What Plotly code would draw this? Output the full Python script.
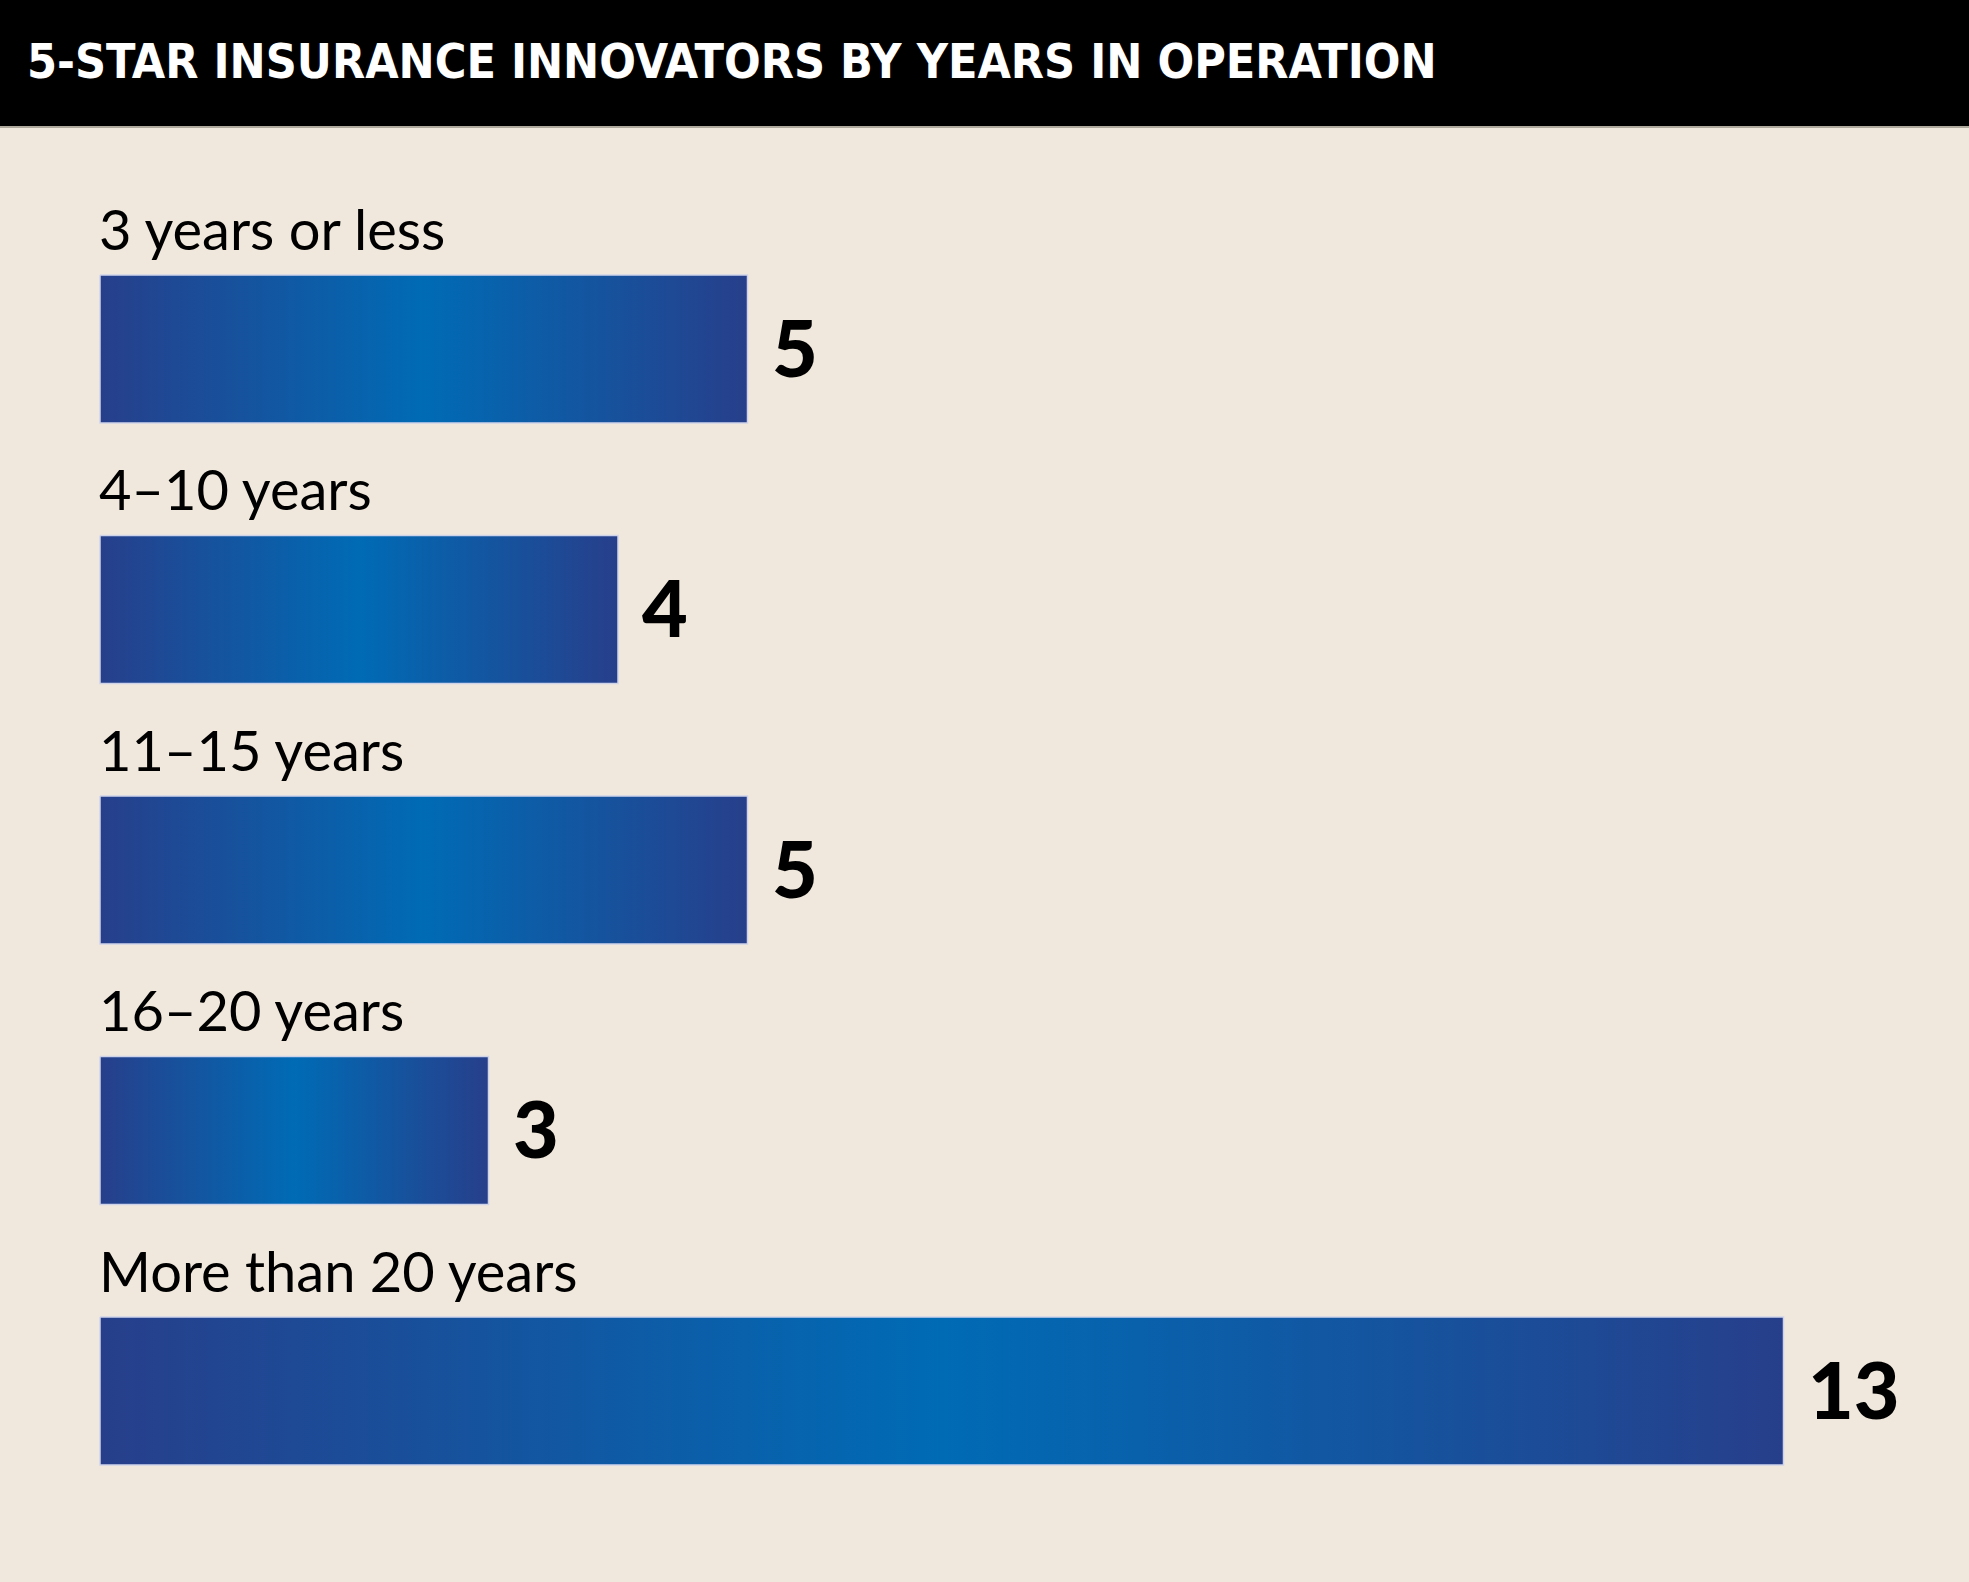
import plotly.graph_objects as go

categories = ["3 years or less", "4\u201310 years", "11\u201315 years", "16\u201320 years", "More than 20 years"]
values = [5, 4, 5, 3, 13]
title_text = "5-STAR INSURANCE INNOVATORS BY YEARS IN OPERATION"

W, H = 1969, 1582
BG = "#f0e8dc"
EDGE = "#273f8b"
MID = "#006bb5"

# pixel mapping helpers (layout only)
x0_px, unit_px = 100, 129.5
y0_px, pitch_px = 349, 260.5
half_h = 74 / pitch_px
label_off = (349 - 228) / pitch_px

fig = go.Figure()
for i, (cat, v) in enumerate(zip(categories, values)):
    fig.add_trace(go.Scatter(
        x=[0, v, v, 0, 0],
        y=[i - half_h, i - half_h, i + half_h, i + half_h, i - half_h],
        mode="lines",
        fill="toself",
        fillgradient=dict(type="horizontal",
                          colorscale=[[0, EDGE], [0.5, MID], [1, EDGE]]),
        line=dict(color="#cfd3ea", width=1.5),
        hoverinfo="skip",
        showlegend=False,
    ))
    fig.add_annotation(x=0, y=i - label_off, xref="x", yref="y",
                       text=cat, showarrow=False, xanchor="left", yanchor="middle",
                       xshift=-3,
                       font=dict(family="Lato", size=56, color="#000000", weight=400))
    fig.add_annotation(x=v, y=i, xref="x", yref="y",
                       text=str(v), showarrow=False, xanchor="left", yanchor="middle",
                       xshift=22, yshift=3,
                       font=dict(family="Lato", size=79, color="#000000", weight=900))

# title bar
fig.add_shape(type="rect", xref="paper", yref="paper", x0=0, x1=1,
              y0=1 - 126 / H, y1=1, fillcolor="#000000", line=dict(width=0), layer="below")
fig.add_shape(type="line", xref="paper", yref="paper", x0=0, x1=1,
              y0=1 - 127 / H, y1=1 - 127 / H, line=dict(color="#9a9588", width=1.5))
fig.add_annotation(xref="paper", yref="paper", x=25 / W, y=1 - 61 / H,
                   text=title_text, showarrow=False, xanchor="left", yanchor="middle",
                   font=dict(family="DejaVu Sans Condensed, DejaVu Sans", size=48,
                             color="#ffffff", weight=700))

fig.update_layout(
    width=W, height=H,
    margin=dict(l=0, r=0, t=0, b=0),
    paper_bgcolor=BG, plot_bgcolor=BG,
    xaxis=dict(range=[-x0_px / unit_px, (W - x0_px) / unit_px], visible=False, fixedrange=True),
    yaxis=dict(range=[(H - y0_px) / pitch_px, -y0_px / pitch_px], visible=False, fixedrange=True),
    showlegend=False,
)

fig.write_html("out.html", config={"displayModeBar": False},
               post_script="document.body.style.margin='0px';document.body.style.overflow='hidden';")
